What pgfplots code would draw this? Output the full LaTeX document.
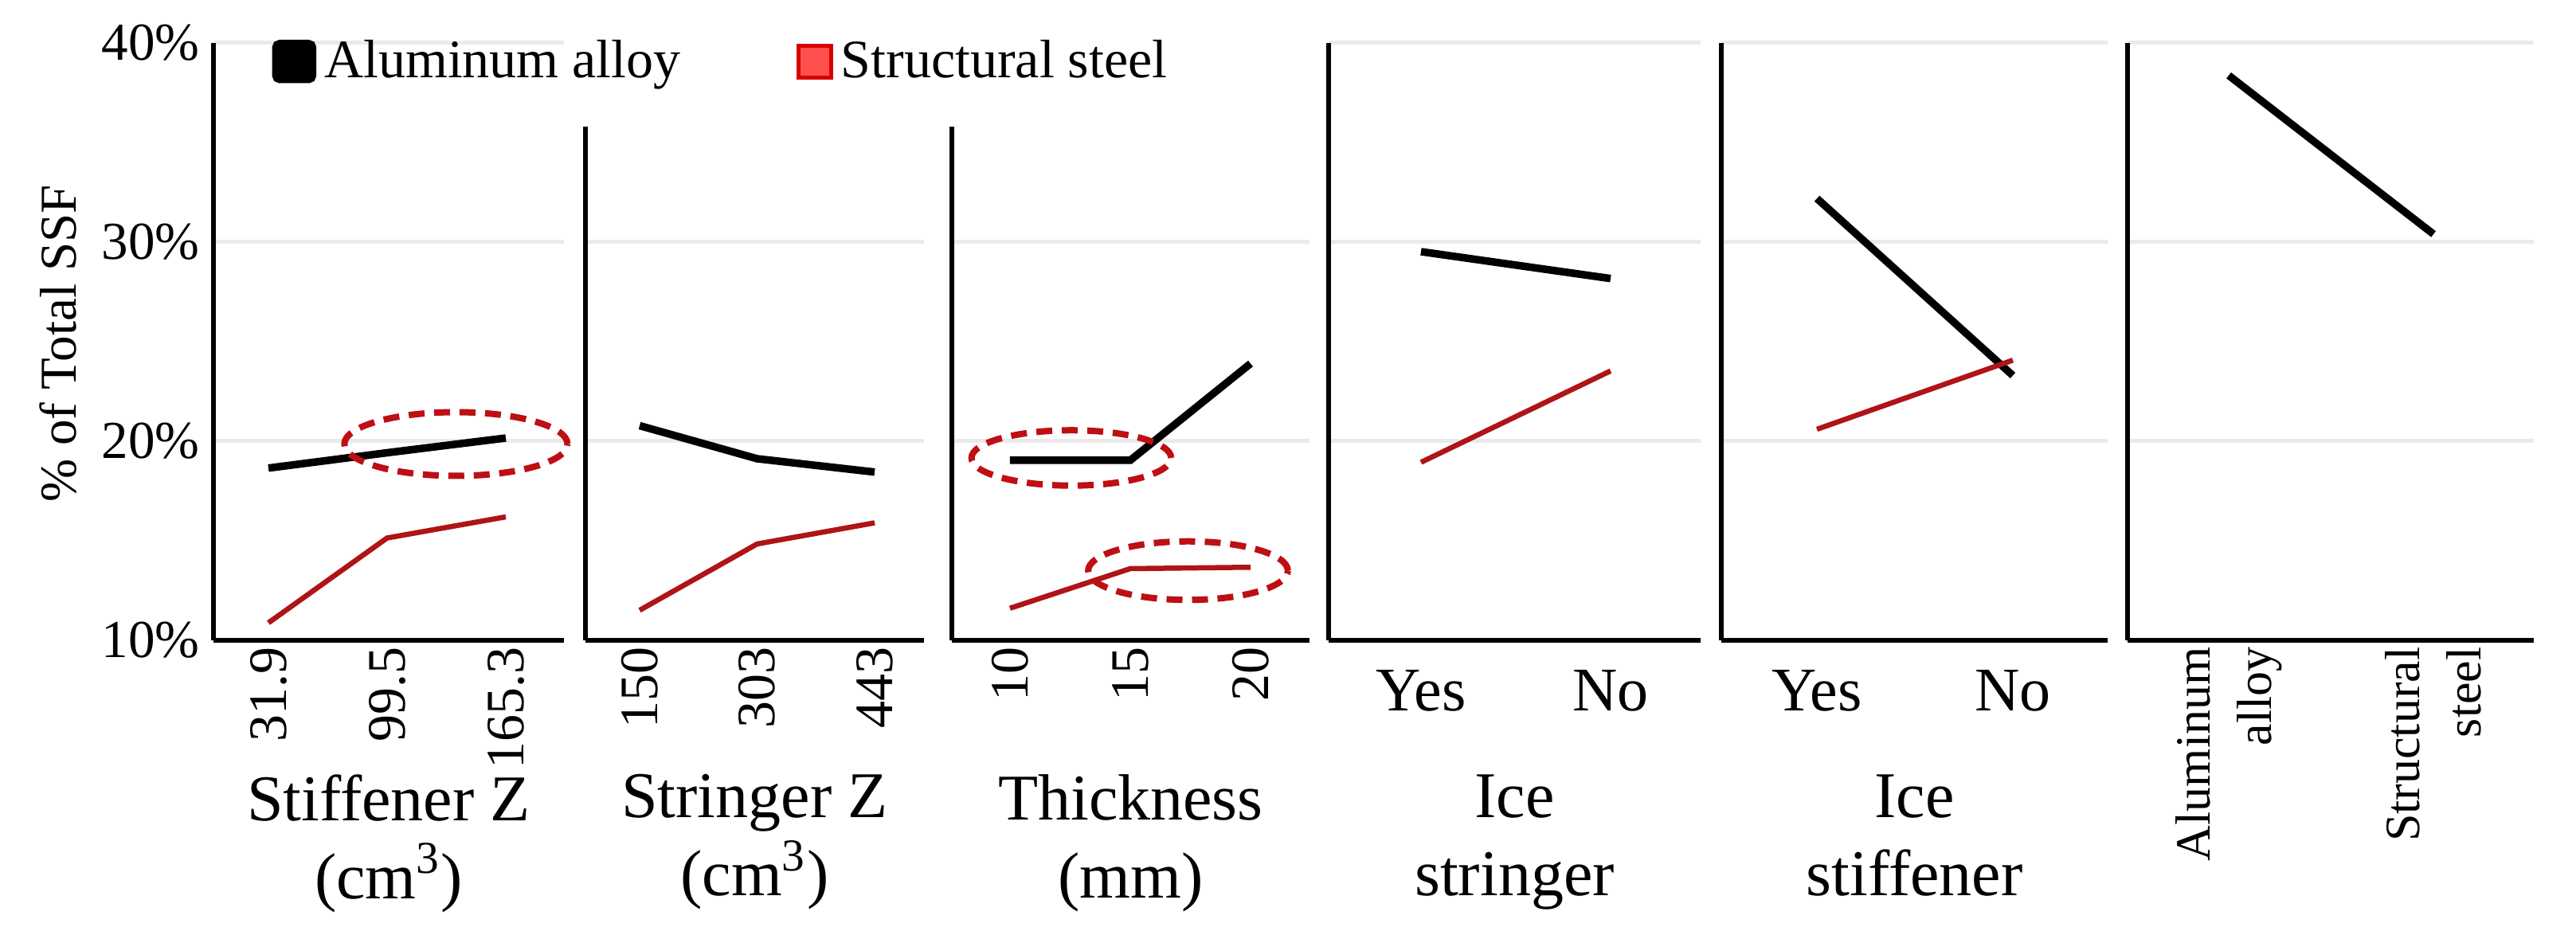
\documentclass[border=0pt]{standalone}
\usepackage{fontspec}
\setmainfont{Liberation Serif}
\usepackage{pgfplots}
\pgfplotsset{compat=1.18}

\definecolor{steelred}{RGB}{175,20,22}
\definecolor{ringred}{RGB}{190,15,20}
\definecolor{legred}{RGB}{255,80,80}
\definecolor{legredline}{RGB}{215,0,0}
\definecolor{gridgray}{RGB}{234,234,234}

\tikzset{ring/.style={ringred, line width=1.6pt, dash pattern=on 4pt off 2.4pt}}

\pgfplotsset{
  panel/.style={
    scale only axis, height=150pt, ymin=10, ymax=40,
    axis x line*=bottom, axis y line*=left,
    axis line style={-, line width=1.1pt, black},
    major tick length=0pt,
    ytick={20,30,40}, yticklabels={},
    ymajorgrids, grid style={gridgray, line width=1pt},
    xtick={0,1,2},
    clip=false,
    /pgf/number format/assume math mode=true,
    xlabel style={at={(axis description cs:0.5,0)}, anchor=north, yshift=-33.5pt,
      align=center, inner sep=0pt, font=\fontsize{16.4}{19.6}\selectfont},
  },
  numticks/.style={xticklabel style={rotate=90, anchor=east, inner sep=1.5pt,
      font=\fontsize{13.6}{13.6}\selectfont}},
  yesno/.style={xticklabels={Yes,No}, xticklabel style={anchor=north, yshift=-4pt,
      font=\fontsize{15.6}{15.6}\selectfont}},
  alu/.style={black, line width=1.9pt},
  stl/.style={steelred, line width=1.3pt},
}

\begin{document}
\begin{tikzpicture}
\useasboundingbox (0pt,-74pt) rectangle (646.8pt,160.8pt);

% Stiffener Z
\begin{axis}[panel, at={(53.6pt,0pt)}, anchor=south west, width=88pt,
    xmin=-0.463, xmax=2.49, numticks, xticklabels={31.9,99.5,165.3},
    ytick={10,20,30,40}, yticklabels={10\%,20\%,30\%,40\%},
    yticklabel style={font=\fontsize{13.4}{13.4}\selectfont},
    ylabel={\% of Total SSF},
    ylabel style={at={(axis description cs:-0.443,0.497)}, anchor=center,
      font=\fontsize{13}{13}\selectfont},
    xlabel={Stiffener Z\\(cm\textsuperscript{3})},
    legend columns=2,
    legend style={at={(0.165,0.969)}, anchor=west, draw=none, fill=none,
      inner sep=0pt, font=\fontsize{13.6}{16}\selectfont,
      /tikz/column 2/.style={column sep=27pt}}]
\addplot[alu, legend image code/.code={\fill[black, rounded corners=1pt] (0pt,-4.5pt) rectangle (9.2pt,4.5pt);}]
  coordinates {(0,18.65) (1,19.42) (2,20.16)};
\addlegendentry{Aluminum alloy}
\addplot[stl, legend image code/.code={\filldraw[fill=legred, draw=legredline, line width=1pt] (0.5pt,-4pt) rectangle (8.7pt,4pt);}]
  coordinates {(0,10.88) (1,15.14) (2,16.2)};
\addlegendentry{Structural steel}
\draw[ring] (axis cs:1.58,19.86) ellipse [x radius=0.94, y radius=1.6];
\end{axis}

% Stringer Z
\begin{axis}[panel, at={(147pt,0pt)}, anchor=south west, width=85pt,
    height=129pt, ymax=35.8,
    xmin=-0.461, xmax=2.42, numticks, xticklabels={150,303,443},
    xlabel={Stringer Z\\(cm\textsuperscript{3})}]
\addplot[alu] coordinates {(0,20.78) (1,19.12) (2,18.45)};
\addplot[stl] coordinates {(0,11.51) (1,14.84) (2,15.9)};
\end{axis}

% Thickness
\begin{axis}[panel, at={(239pt,0pt)}, anchor=south west, width=89.8pt,
    height=129pt, ymax=35.8,
    xmin=-0.483, xmax=2.49, numticks, xticklabels={10,15,20},
    xlabel={Thickness\\(mm)}]
\addplot[alu] coordinates {(0,19.04) (1,19.04) (2,23.9)};
\addplot[stl] coordinates {(0,11.61) (1,13.6) (2,13.67)};
\draw[ring] (axis cs:0.51,19.16) ellipse [x radius=0.83, y radius=1.39];
\draw[ring] (axis cs:1.48,13.5) ellipse [x radius=0.83, y radius=1.47];
\end{axis}

% Ice stringer
\begin{axis}[panel, at={(333.6pt,0pt)}, anchor=south west, width=93.4pt,
    xmin=-0.487, xmax=1.475, xtick={0,1}, yesno,
    xlabel={Ice\\stringer}]
\addplot[alu] coordinates {(0,29.52) (1,28.17)};
\addplot[stl] coordinates {(0,18.94) (1,23.53)};
\end{axis}

% Ice stiffener
\begin{axis}[panel, at={(432.2pt,0pt)}, anchor=south west, width=97pt,
    xmin=-0.488, xmax=1.484, xtick={0,1}, yesno,
    xlabel={Ice\\stiffener}]
\addplot[alu] coordinates {(0,32.19) (1,23.3)};
\addplot[stl] coordinates {(0,20.6) (1,24.07)};
\end{axis}

% Material
\begin{axis}[panel, at={(534.2pt,0pt)}, anchor=south west, width=102pt,
    xmin=-0.494, xmax=1.49, xtick={0,1},
    xticklabels={{Aluminum\\alloy},{Structural\\steel}},
    xticklabel style={rotate=90, anchor=east, align=right, inner sep=1.5pt,
      font=\fontsize{12.4}{15.4}\selectfont}]
\addplot[alu] coordinates {(0,38.37) (1,30.4)};
\end{axis}
\end{tikzpicture}
\end{document}
